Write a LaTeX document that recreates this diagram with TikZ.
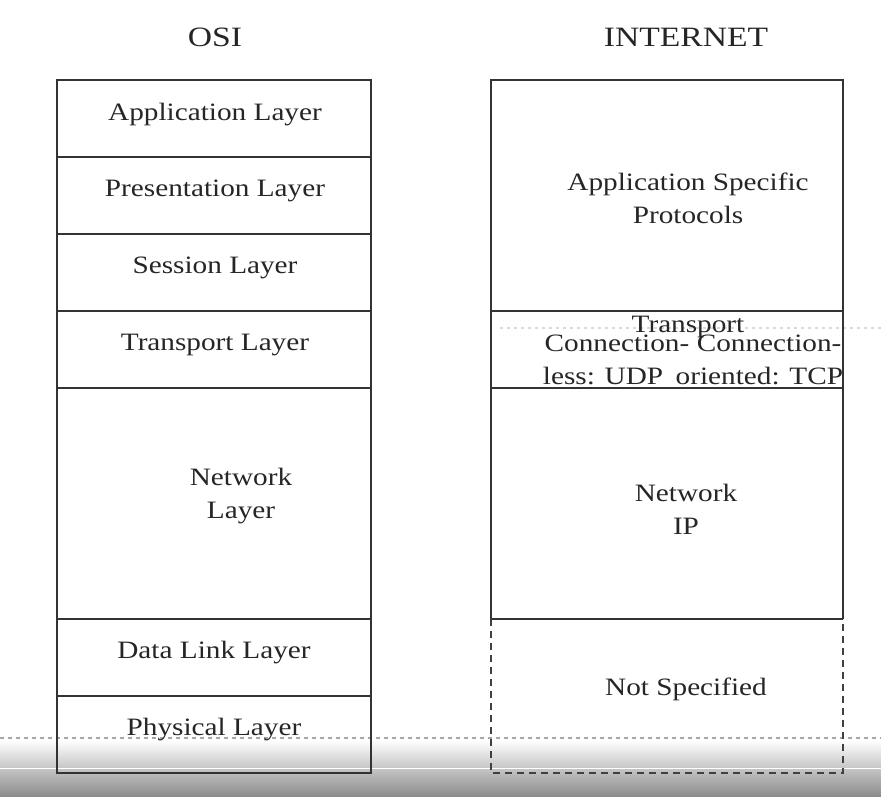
\documentclass[tikz,border=0pt]{standalone}
\usepackage{fontspec}
\setmainfont{Liberation Serif}
\newfontfamily\lblfont[FakeStretch=1.17]{Liberation Serif}
\newfontfamily\ttlfont[FakeStretch=1.2]{Liberation Serif}
\begin{document}
\begin{tikzpicture}[x=1pt,y=-1pt,
  box/.style={draw=black!80,line width=1.6pt},
  dbox/.style={draw=black!75,line width=1.6pt,dash pattern=on 7pt off 5pt},
  lbl/.style={font=\lblfont\fontsize{25}{33}\selectfont,text=black!85,inner sep=0pt,align=center},
  ttl/.style={font=\ttlfont\fontsize{28}{32}\selectfont,text=black!85,inner sep=0pt}]
\useasboundingbox (0,0) rectangle (881,796);
\fill[white] (0,0) rectangle (881,796);
% bottom gradient bar of the screenshot
\shade[top color=white,bottom color=black!45] (0,740) rectangle (881,796);
\draw[white,line width=1pt] (0,768) -- (881,768);
\draw[black!35,line width=1.2pt,dash pattern=on 4pt off 4pt] (0,738) -- (881,738);
\draw[black!15,line width=1.2pt,dash pattern=on 3pt off 4pt] (500,328) -- (881,328);
% titles
\node[ttl] (osi) at (215,37) {OSI};
\node[ttl] (inet) at (686,37) {INTERNET};
% OSI column
\draw[box] (57,80) rectangle (371,773);
\foreach \y in {157,234,311,388,619,696} \draw[box] (57,\y) -- (371,\y);
\node[lbl] (app) at (215,115) {Application Layer};
\node[lbl] (pres) at (215,191) {Presentation Layer};
\node[lbl] (sess) at (215,268) {Session Layer};
\node[lbl] (trans) at (215,345) {Transport Layer};
\node[lbl] (net) at (241,496) {Network\\Layer};
\node[lbl] (dl) at (214,653) {Data Link Layer};
\node[lbl] (phy) at (214,730) {Physical Layer};
% Internet column
\draw[box] (491,619) -- (491,80) -- (843,80) -- (843,619);
\foreach \y in {311,388,619} \draw[box] (491,\y) -- (843,\y);
\draw[dbox] (491,619) -- (491,773) -- (843,773) -- (843,619);
\node[lbl] (aspec) at (688,198) {Application Specific\\Protocols};
\node[lbl] (tr) at (688,327) {Transport};
\node[lbl] (conn) at (693,360) {Connection-\hspace{0.3em}Connection-\\less: UDP\hspace{0.5em}oriented: TCP};
\node[lbl] (ip) at (686,509) {Network\\IP};
\node[lbl] (ns) at (686,689) {Not Specified};
\end{tikzpicture}
\end{document}
